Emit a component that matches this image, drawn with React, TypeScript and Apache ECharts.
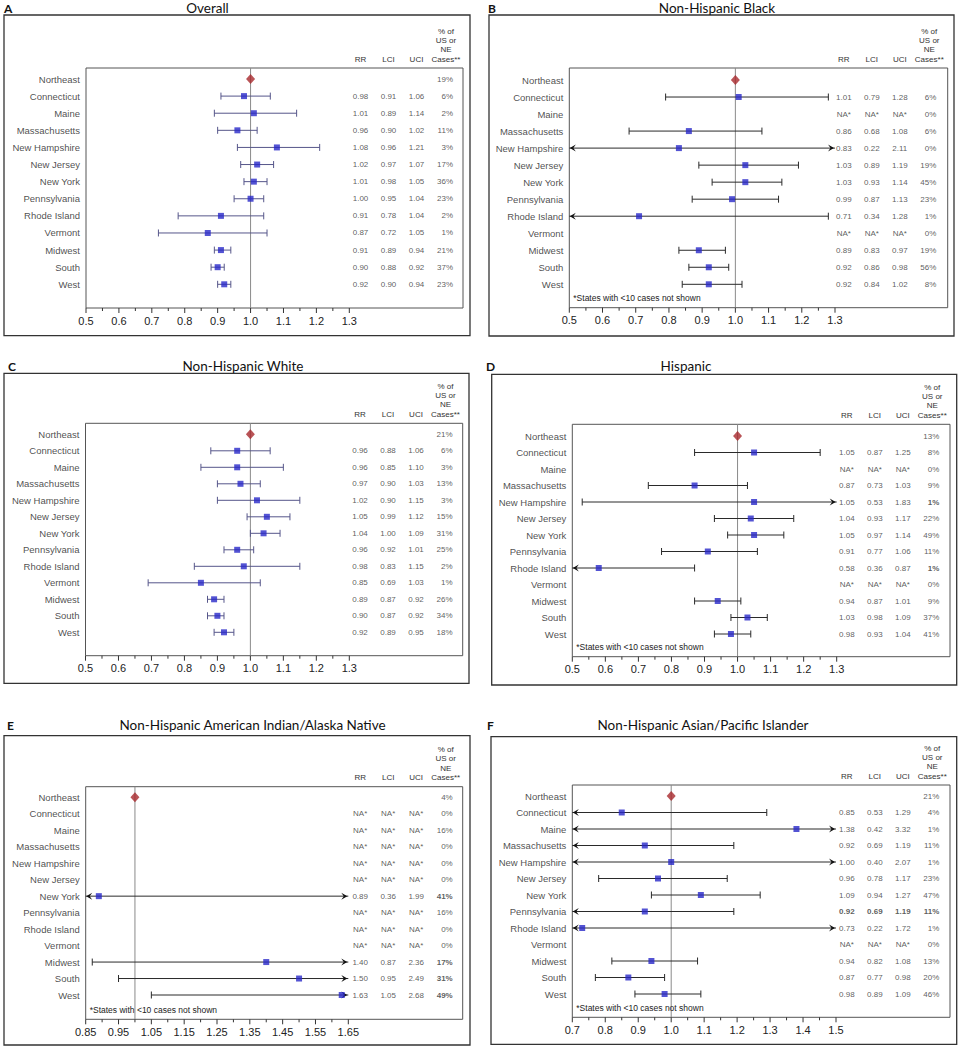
import React, { useEffect, useRef } from 'react';
import * as echarts from 'echarts';

// ---------------- DATA ----------------
const REF_REGION = 'Northeast';
const REGIONS = ['Connecticut', 'Maine', 'Massachusetts', 'New Hampshire', 'New Jersey', 'New York', 'Pennsylvania', 'Rhode Island', 'Vermont', 'Midwest', 'South', 'West'];
const REF_RR = 1.0;

const OVERALL_RR = [0.98, 1.01, 0.96, 1.08, 1.02, 1.01, 1.0, 0.91, 0.87, 0.91, 0.9, 0.92];
const OVERALL_LCI = [0.91, 0.89, 0.9, 0.96, 0.97, 0.98, 0.95, 0.78, 0.72, 0.89, 0.88, 0.9];
const OVERALL_UCI = [1.06, 1.14, 1.02, 1.21, 1.07, 1.05, 1.04, 1.04, 1.05, 0.94, 0.92, 0.94];
const OVERALL_PCT = [6, 2, 11, 3, 17, 36, 23, 2, 1, 21, 37, 23];
const OVERALL_REF_PCT: number | null = 19;

const BLACK_RR = [1.01, null, 0.86, 0.83, 1.03, 1.03, 0.99, 0.71, null, 0.89, 0.92, 0.92];
const BLACK_LCI = [0.79, null, 0.68, 0.22, 0.89, 0.93, 0.87, 0.34, null, 0.83, 0.86, 0.84];
const BLACK_UCI = [1.28, null, 1.08, 2.11, 1.19, 1.14, 1.13, 1.28, null, 0.97, 0.98, 1.02];
const BLACK_PCT = [6, 0, 6, 0, 19, 45, 23, 1, 0, 19, 56, 8];
const BLACK_REF_PCT: number | null = null;

const WHITE_RR = [0.96, 0.96, 0.97, 1.02, 1.05, 1.04, 0.96, 0.98, 0.85, 0.89, 0.9, 0.92];
const WHITE_LCI = [0.88, 0.85, 0.9, 0.9, 0.99, 1.0, 0.92, 0.83, 0.69, 0.87, 0.87, 0.89];
const WHITE_UCI = [1.06, 1.1, 1.03, 1.15, 1.12, 1.09, 1.01, 1.15, 1.03, 0.92, 0.92, 0.95];
const WHITE_PCT = [6, 3, 13, 3, 15, 31, 25, 2, 1, 26, 34, 18];
const WHITE_REF_PCT: number | null = 21;

const HISP_RR = [1.05, null, 0.87, 1.05, 1.04, 1.05, 0.91, 0.58, null, 0.94, 1.03, 0.98];
const HISP_LCI = [0.87, null, 0.73, 0.53, 0.93, 0.97, 0.77, 0.36, null, 0.87, 0.98, 0.93];
const HISP_UCI = [1.25, null, 1.03, 1.83, 1.17, 1.14, 1.06, 0.87, null, 1.01, 1.09, 1.04];
const HISP_PCT = [8, 0, 9, 1, 22, 49, 11, 1, 0, 9, 37, 41];
const HISP_REF_PCT: number | null = 13;
const HISP_BOLD_PCT = [3, 7];

const AIAN_RR = [null, null, null, null, null, 0.89, null, null, null, 1.4, 1.5, 1.63];
const AIAN_LCI = [null, null, null, null, null, 0.36, null, null, null, 0.87, 0.95, 1.05];
const AIAN_UCI = [null, null, null, null, null, 1.99, null, null, null, 2.36, 2.49, 2.68];
const AIAN_PCT = [0, 16, 0, 0, 0, 41, 16, 0, 0, 17, 31, 49];
const AIAN_REF_PCT: number | null = 4;
const AIAN_BOLD_PCT = [5, 9, 10, 11];

const API_RR = [0.85, 1.38, 0.92, 1.0, 0.96, 1.09, 0.92, 0.73, null, 0.94, 0.87, 0.98];
const API_LCI = [0.53, 0.42, 0.69, 0.4, 0.78, 0.94, 0.69, 0.22, null, 0.82, 0.77, 0.89];
const API_UCI = [1.29, 3.32, 1.19, 2.07, 1.17, 1.27, 1.19, 1.72, null, 1.08, 0.98, 1.09];
const API_PCT = [4, 1, 11, 1, 23, 47, 11, 1, 0, 13, 20, 46];
const API_REF_PCT: number | null = 21;
const API_BOLD_ROW = [6];

const AXIS_STD = { min: 0.5, max: 1.3, interval: 0.1, decimals: 1 };
const AXIS_AIAN = { min: 0.85, max: 1.65, interval: 0.1, decimals: 2 };
const AXIS_API = { min: 0.7, max: 1.5, interval: 0.1, decimals: 1 };

const TABLE_HEADERS = ['RR', 'LCI', 'UCI'];
const PCT_HEADER = ['% of', 'US or', 'NE', 'Cases**'];
const FOOTNOTE = '*States with <10 cases not shown';

// ---------------- LAYOUT ----------------
const FONT = 'Liberation Sans, Arial, sans-serif';
const TITLE_FONT = 'Lato, Open Sans, sans-serif';
const BAR_PURPLE = '#56568a';
const BAR_DARK = '#2a2a2a';

type Layout = {
  letterX: number; titleX: number; titleY: number;
  outer: [number, number, number, number];
  frameL: number; frameT: number; frameR: number; frameB: number;
  axisR: number; row0: number; row12: number;
};

const PANELS = [
  {
    letter: 'A', title: 'Overall', rr: OVERALL_RR, lci: OVERALL_LCI, uci: OVERALL_UCI, pct: OVERALL_PCT, refPct: OVERALL_REF_PCT,
    boldPct: [] as number[], boldRow: [] as number[], footnote: false, axis: AXIS_STD, barColor: BAR_PURPLE,
    layout: { letterX: 4, titleX: 207.5, titleY: 8, outer: [4, 15, 470, 335.7], frameL: 86, frameT: 68, frameR: 463, frameB: 308, axisR: 349.3, row0: 79, row12: 284.3 } as Layout,
  },
  {
    letter: 'B', title: 'Non-Hispanic Black', rr: BLACK_RR, lci: BLACK_LCI, uci: BLACK_UCI, pct: BLACK_PCT, refPct: BLACK_REF_PCT,
    boldPct: [] as number[], boldRow: [] as number[], footnote: true, axis: AXIS_STD, barColor: BAR_DARK,
    layout: { letterX: 488, titleX: 717, titleY: 8, outer: [489, 15, 954, 336], frameL: 569.3, frameT: 68, frameR: 947.7, frameB: 307.7, axisR: 835, row0: 80, row12: 284.3 } as Layout,
  },
  {
    letter: 'C', title: 'Non-Hispanic White', rr: WHITE_RR, lci: WHITE_LCI, uci: WHITE_UCI, pct: WHITE_PCT, refPct: WHITE_REF_PCT,
    boldPct: [] as number[], boldRow: [] as number[], footnote: false, axis: AXIS_STD, barColor: BAR_PURPLE,
    layout: { letterX: 8, titleX: 243, titleY: 366, outer: [4, 373.3, 469, 683.3], frameL: 85.5, frameT: 423.3, frameR: 462.7, frameB: 655.7, axisR: 349.3, row0: 434.3, row12: 632.3 } as Layout,
  },
  {
    letter: 'D', title: 'Hispanic', rr: HISP_RR, lci: HISP_LCI, uci: HISP_UCI, pct: HISP_PCT, refPct: HISP_REF_PCT,
    boldPct: HISP_BOLD_PCT, boldRow: [] as number[], footnote: true, axis: AXIS_STD, barColor: BAR_DARK,
    layout: { letterX: 486, titleX: 686, titleY: 366, outer: [491.7, 374.3, 956.7, 685], frameL: 572.3, frameT: 424.3, frameR: 950, frameB: 656.7, axisR: 836.7, row0: 436, row12: 634 } as Layout,
  },
  {
    letter: 'E', title: 'Non-Hispanic American Indian/Alaska Native', rr: AIAN_RR, lci: AIAN_LCI, uci: AIAN_UCI, pct: AIAN_PCT, refPct: AIAN_REF_PCT,
    boldPct: AIAN_BOLD_PCT, boldRow: [] as number[], footnote: true, axis: AXIS_AIAN, barColor: BAR_DARK,
    layout: { letterX: 7, titleX: 252.5, titleY: 725, outer: [4, 735.7, 470, 1045], frameL: 85.7, frameT: 786.7, frameR: 462.7, frameB: 1019.3, axisR: 348.3, row0: 797.3, row12: 995 } as Layout,
  },
  {
    letter: 'F', title: 'Non-Hispanic Asian/Pacific Islander', rr: API_RR, lci: API_LCI, uci: API_UCI, pct: API_PCT, refPct: API_REF_PCT,
    boldPct: [] as number[], boldRow: API_BOLD_ROW, footnote: true, axis: AXIS_API, barColor: BAR_DARK,
    layout: { letterX: 487, titleX: 703, titleY: 725, outer: [491, 736.7, 956.7, 1044.3], frameL: 572.3, frameT: 785, frameR: 950, frameB: 1017.3, axisR: 836, row0: 796, row12: 994 } as Layout,
  },
];

// table column offsets from frame left
const COL_X = [274.5, 302.5, 330.5];
const PCT_RIGHT = 367.5;
const PCT_HEAD_X = 360;
const NAME_GAP = 5.5;
const HEAD_Y = [-37, -28, -18.5, -9];
const MAJOR_TICK = 5;
const MINOR_TICK = 3;
const TICK_ROOM = 7; // grid extends this far below the frame so tick marks stay inside it
const LABEL_GAP = 7;

function txt(text: string, x: number, y: number, opts: any = {}) {
  const align = opts.align || 'center';
  return {
    type: 'text', silent: true, z: 10,
    style: {
      text, x, y,
      fill: opts.color || '#333',
      fontSize: opts.size || 8,
      fontFamily: opts.family || FONT,
      fontWeight: opts.weight || 'normal',
      textAlign: align, align,
      textVerticalAlign: 'middle', verticalAlign: 'middle',
    },
  };
}

function tickSeries(gp: number, data: number[][], len: number) {
  return {
    type: 'custom', xAxisIndex: gp, yAxisIndex: gp, z: 5, silent: true,
    encode: { x: 0, y: 1 },
    data,
    renderItem: (params: any, api: any) => {
      const pt = api.coord([api.value(0), api.value(1)]);
      return {
        type: 'group',
        children: [{ type: 'line', shape: { x1: pt[0], y1: pt[1], x2: pt[0], y2: pt[1] + len }, style: { stroke: '#333', lineWidth: 1 } }],
      };
    },
  };
}

function buildOption() {
  const grid: any[] = [];
  const xAxis: any[] = [];
  const yAxis: any[] = [];
  const series: any[] = [];
  const graphic: any[] = [];

  PANELS.forEach((p, i) => {
    const L = p.layout;
    const step = (L.row12 - L.row0) / 12;
    const yMin = -(L.row0 - L.frameT) / step;
    const yFrame = 12 + (L.frameB - L.row12) / step; // value at the frame's bottom edge
    const yMax = yFrame + TICK_ROOM / step;
    const gp = 2 * i;
    const gt = 2 * i + 1;
    const h = L.frameB - L.frameT + TICK_ROOM;

    grid.push({ left: L.frameL, top: L.frameT, width: L.axisR - L.frameL, height: h, containLabel: false });
    grid.push({ left: L.frameL, top: L.frameT, width: L.frameR - L.frameL, height: h, containLabel: false });

    xAxis.push({
      type: 'value', gridIndex: gp, position: 'bottom', min: p.axis.min, max: p.axis.max, interval: p.axis.interval,
      axisLine: { show: false, onZero: false },
      axisTick: { show: false },
      minorTick: { show: false },
      splitLine: { show: false }, minorSplitLine: { show: false },
      axisLabel: { fontSize: 11, color: '#222', margin: LABEL_GAP - TICK_ROOM, fontFamily: FONT, formatter: (v: number) => v.toFixed(p.axis.decimals) },
    });
    xAxis.push({ type: 'value', gridIndex: gt, min: 0, max: L.frameR - L.frameL, show: false, axisLine: { onZero: false } });
    yAxis.push({ type: 'value', gridIndex: gp, inverse: true, min: yMin, max: yMax, show: false, axisLine: { onZero: false } });
    yAxis.push({ type: 'value', gridIndex: gt, inverse: true, min: yMin, max: yMax, show: false, axisLine: { onZero: false } });

    // tick marks at the axis values (major every interval, minor halfway)
    const ax = p.axis;
    const nSteps = Math.round((ax.max - ax.min) / ax.interval);
    const majors: number[][] = [];
    const minors: number[][] = [];
    for (let k = 0; k <= nSteps; k++) {
      majors.push([ax.min + k * ax.interval, yFrame]);
      if (k < nSteps) minors.push([ax.min + (k + 0.5) * ax.interval, yFrame]);
    }
    series.push(tickSeries(gp, majors, MAJOR_TICK));
    series.push(tickSeries(gp, minors, MINOR_TICK));

    // reference line at RR = 1
    series.push({
      type: 'line', xAxisIndex: gp, yAxisIndex: gp, z: 1, silent: true, symbol: 'none',
      lineStyle: { color: '#8a8a8a', width: 1 },
      data: [[REF_RR, yMin], [REF_RR, yFrame]],
    });

    // error bars
    const barData: any[] = [];
    p.rr.forEach((v, k) => {
      if (v != null && p.lci[k] != null && p.uci[k] != null) barData.push([k + 1, p.lci[k], p.uci[k]]);
    });
    const color = p.barColor;
    series.push({
      type: 'custom', xAxisIndex: gp, yAxisIndex: gp, z: 2, silent: true,
      encode: { x: [1, 2], y: 0 },
      data: barData,
      renderItem: (params: any, api: any) => {
        const row = api.value(0);
        const lci = api.value(1);
        const uci = api.value(2);
        const lo = Math.max(lci, ax.min);
        const hi = Math.min(uci, ax.max);
        const a = api.coord([lo, row]);
        const b = api.coord([hi, row]);
        const st = { stroke: color, lineWidth: 1 };
        const ch: any[] = [{ type: 'line', shape: { x1: a[0], y1: a[1], x2: b[0], y2: b[1] }, style: st }];
        if (lci >= ax.min) {
          ch.push({ type: 'line', shape: { x1: a[0], y1: a[1] - 3.5, x2: a[0], y2: a[1] + 3.5 }, style: st });
        } else {
          const x = a[0] + 0.5, y = a[1];
          ch.push({ type: 'polygon', shape: { points: [[x, y], [x + 6, y - 3.5], [x + 3.5, y], [x + 6, y + 3.5]] }, style: { fill: '#111' } });
        }
        if (uci <= ax.max) {
          ch.push({ type: 'line', shape: { x1: b[0], y1: b[1] - 3.5, x2: b[0], y2: b[1] + 3.5 }, style: st });
        } else {
          const x = b[0] - 1, y = b[1];
          ch.push({ type: 'polygon', shape: { points: [[x, y], [x - 6, y - 3.5], [x - 3.5, y], [x - 6, y + 3.5]] }, style: { fill: '#111' } });
        }
        return { type: 'group', children: ch };
      },
    });

    // point estimates
    const pts: any[] = [];
    p.rr.forEach((v, k) => { if (v != null) pts.push([v, k + 1]); });
    series.push({
      type: 'scatter', xAxisIndex: gp, yAxisIndex: gp, z: 3, silent: true, clip: false,
      symbol: 'rect', symbolSize: 6, itemStyle: { color: '#2828c8' }, data: pts,
    });
    series.push({
      type: 'scatter', xAxisIndex: gp, yAxisIndex: gp, z: 4, silent: true, clip: false,
      symbol: 'diamond', symbolSize: [9, 10], itemStyle: { color: '#a8282c' }, data: [[REF_RR, 0]],
    });

    // region names
    const names = [REF_REGION, ...REGIONS].map((n, r) => ({ value: [-NAME_GAP, r], label: { formatter: n } }));
    series.push({
      type: 'scatter', xAxisIndex: gt, yAxisIndex: gt, silent: true, clip: false, symbolSize: 1,
      itemStyle: { color: 'rgba(0,0,0,0)' },
      label: { show: true, position: 'left', distance: 0, fontSize: 9.5, color: '#222', fontFamily: FONT },
      data: names,
    });

    // numeric columns
    const cells: any[] = [];
    const pctCells: any[] = [];
    const fmt = (v: number | null) => (v == null ? 'NA*' : v.toFixed(2));
    REGIONS.forEach((_, k) => {
      const bold = p.boldRow.includes(k);
      const w = bold ? 'bold' : 'normal';
      [p.rr[k], p.lci[k], p.uci[k]].forEach((v, c) => {
        cells.push({ value: [COL_X[c], k + 1], label: { formatter: fmt(v as any), fontWeight: w } });
      });
      const pw = bold || p.boldPct.includes(k) ? 'bold' : 'normal';
      pctCells.push({ value: [PCT_RIGHT, k + 1], label: { formatter: p.pct[k] + '%', fontWeight: pw } });
    });
    if (p.refPct != null) pctCells.push({ value: [PCT_RIGHT, 0], label: { formatter: p.refPct + '%' } });
    series.push({
      type: 'scatter', xAxisIndex: gt, yAxisIndex: gt, silent: true, clip: false, symbolSize: 1,
      itemStyle: { color: 'rgba(0,0,0,0)' },
      label: { show: true, position: 'inside', fontSize: 8, color: '#333', fontFamily: FONT },
      data: cells,
    });
    series.push({
      type: 'scatter', xAxisIndex: gt, yAxisIndex: gt, silent: true, clip: false, symbolSize: 1,
      itemStyle: { color: 'rgba(0,0,0,0)' },
      label: { show: true, position: 'left', distance: 0, fontSize: 8, color: '#333', fontFamily: FONT },
      data: pctCells,
    });

    // frames
    const [ox1, oy1, ox2, oy2] = L.outer;
    graphic.push({ type: 'rect', silent: true, z: 0, shape: { x: ox1, y: oy1, width: ox2 - ox1, height: oy2 - oy1 }, style: { fill: 'none', stroke: '#333', lineWidth: 1.3 } });
    graphic.push({ type: 'rect', silent: true, z: 0, shape: { x: L.frameL, y: L.frameT, width: L.frameR - L.frameL, height: L.frameB - L.frameT }, style: { fill: 'none', stroke: '#555', lineWidth: 1 } });

    // titles
    graphic.push(txt(p.letter, L.letterX, L.titleY, { align: 'left', size: 12, weight: 'bold', color: '#111', family: TITLE_FONT }));
    graphic.push(txt(p.title, L.titleX, L.titleY, { size: 13.5, color: '#111', family: TITLE_FONT }));

    // table headers
    TABLE_HEADERS.forEach((t, c) => graphic.push(txt(t, L.frameL + COL_X[c], L.frameT + HEAD_Y[3])));
    PCT_HEADER.forEach((t, j) => graphic.push(txt(t, L.frameL + PCT_HEAD_X, L.frameT + HEAD_Y[j])));

    if (p.footnote) graphic.push(txt(FOOTNOTE, L.frameL + 4, L.frameB - 9.3, { align: 'left', size: 8.5, color: '#222' }));
  });

  return { animation: false, backgroundColor: '#fff', textStyle: { fontFamily: FONT }, grid, xAxis, yAxis, series, graphic };
}

export default function App() {
  const ref = useRef<HTMLDivElement>(null);
  useEffect(() => {
    document.body.style.margin = '0';
    if (!ref.current) return;
    const chart = echarts.init(ref.current, undefined, { renderer: 'svg' });
    chart.setOption(buildOption() as any);
    return () => chart.dispose();
  }, []);
  return <div ref={ref} style={{ width: 961, height: 1050 }} />;
}
